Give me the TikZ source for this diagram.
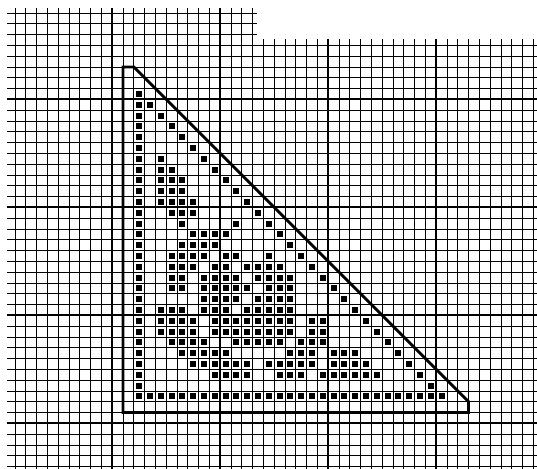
\documentclass[tikz,border=0pt]{standalone}
\usepackage{tikz}

\begin{document}
\begin{tikzpicture}[x=0.3cm,y=-0.3cm,
  minor/.style={line width=0.7pt,black},
  major/.style={line width=1.7pt,black},
  outline/.style={line width=2.2pt,black,line join=miter},
  pix/.style={fill=black}
]
\useasboundingbox (-1.389,-1.204) rectangle (48.333,42.13);
\clip (-1.389,-1.204) rectangle (48.333,42.13);
% grid
\foreach \k in {0,...,2} \draw[minor] (-0.74,\k) -- (22.4,\k);
\foreach \k in {3,...,42} \draw[minor] (-0.74,\k) -- (48.5,\k);
\foreach \i in {0,...,22} \draw[minor] (\i,-0.46) -- (\i,42.5);
\foreach \i in {23,...,48} \draw[minor] (\i,2.4) -- (\i,42.5);
\foreach \k in {8,18,28,38} \draw[major] (-0.74,\k) -- (48.5,\k);
\foreach \i in {9,19} \draw[major] (\i,-0.46) -- (\i,42.5);
\foreach \i in {29,39} \draw[major] (\i,2.4) -- (\i,42.5);
% triangle
\draw[outline] (10,5) -- (11,5) -- (42,36) -- (42,37) -- (10,37) -- cycle;
% filled cells
\foreach \r/\cs in {
  7/{11}, 8/{11,12}, 9/{11,13}, 10/{11,14}, 11/{11,15}, 12/{11,16},
  13/{11,13,17}, 14/{11,13,14,18}, 15/{11,13,14,15,19},
  16/{11,13,14,15,20}, 17/{11,13,14,15,16,21}, 18/{11,14,15,16,22},
  19/{11,15,20,23}, 20/{11,16,17,18,19,24}, 21/{11,15,16,17,18,25},
  22/{11,14,15,16,17,19,20,23,26},
  23/{11,14,15,16,18,19,21,22,23,24,27},
  24/{11,14,15,17,18,19,20,22,23,24,25,28},
  25/{11,14,15,17,18,19,20,21,23,24,25,29},
  26/{11,17,18,19,20,22,23,24,25,30},
  27/{11,13,14,15,17,18,19,21,22,23,24,25,31},
  28/{11,13,14,15,16,18,19,20,21,22,23,24,25,27,28,32},
  29/{11,13,14,15,16,18,19,20,21,22,23,24,25,27,28,33},
  30/{11,14,15,16,17,20,21,22,23,24,26,27,28,34},
  31/{11,15,16,17,18,19,25,26,27,29,30,31,35},
  32/{11,16,17,18,19,20,21,23,24,25,26,27,29,30,31,32,36},
  33/{11,18,19,20,21,24,25,26,28,29,30,31,32,33,37},
  34/{11,38}, 35/{11,...,39}}
  \foreach \c in \cs
    \fill[pix] (\c+0.22,\r+0.22) rectangle +(0.56,0.56);
\end{tikzpicture}
\end{document}
